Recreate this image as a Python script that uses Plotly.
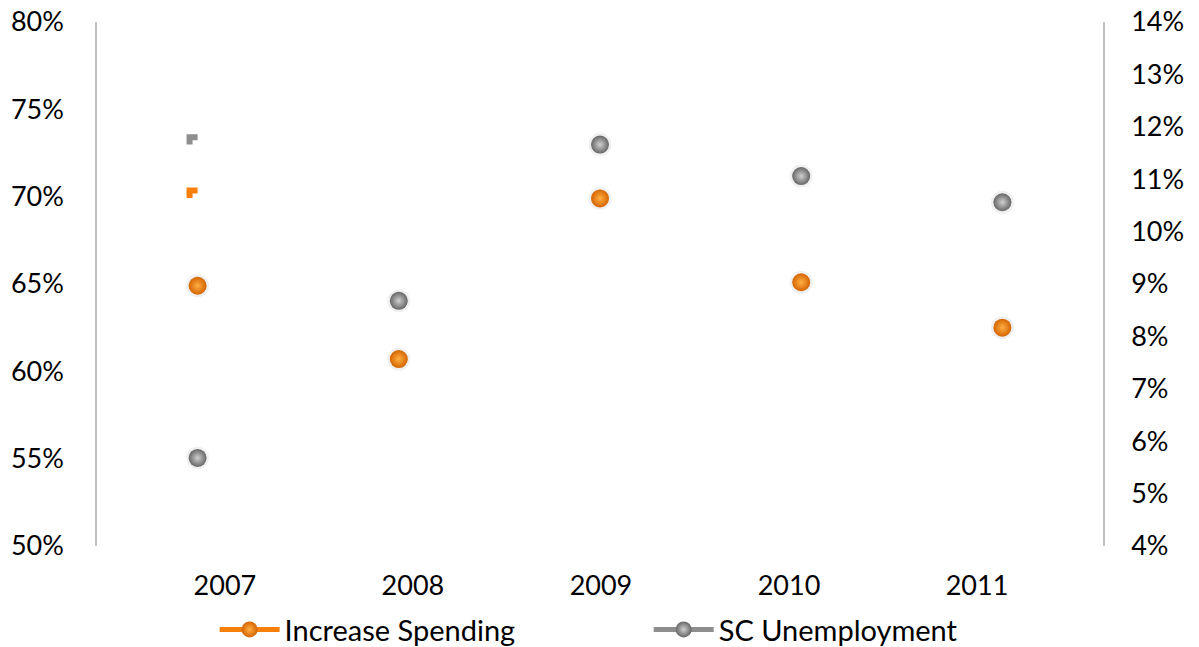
import plotly.graph_objects as go

# Survey years and series values
years = ["2007", "2008", "2009", "2010", "2011"]
increase_spending = [0.649, 0.607, 0.699, 0.651, 0.625]      # left axis
sc_unemployment = [0.0568, 0.0868, 0.1166, 0.1106, 0.1056]   # right axis

# Short line stubs left at the start of each series
stub_x = [-0.04, -0.04, 0.0]
spend_stub = [0.6993, 0.7036, 0.7036]
unemp_stub = [0.1166, 0.1180, 0.1180]

ORANGE_EDGE = "#D46400"
ORANGE_CORE = "#FFAE45"
ORANGE_LINE = "#F77F0A"
GRAY_EDGE = "#666666"
GRAY_CORE = "#CFCFCF"
GRAY_LINE = "#8E8E8E"
FONT = "Lato"

idx = list(range(len(years)))

fig = go.Figure()

# category axis carrying the year labels
fig.add_trace(go.Scatter(
    x=idx, y=[None] * len(idx), xaxis="x", yaxis="y", mode="markers",
    showlegend=False, hoverinfo="skip"))

# soft shadows under the balls
fig.add_trace(go.Scatter(
    x=idx, y=increase_spending, xaxis="x2", yaxis="y", mode="markers",
    marker=dict(size=23, color="rgba(0,0,0,0.06)"), showlegend=False, hoverinfo="skip"))
fig.add_trace(go.Scatter(
    x=idx, y=sc_unemployment, xaxis="x2", yaxis="y2", mode="markers",
    marker=dict(size=23, color="rgba(0,0,0,0.06)"), showlegend=False, hoverinfo="skip"))

fig.add_trace(go.Scatter(
    x=stub_x, y=spend_stub, xaxis="x2", yaxis="y", mode="lines",
    line=dict(color=ORANGE_LINE, width=6), showlegend=False, hoverinfo="skip"))
fig.add_trace(go.Scatter(
    x=stub_x, y=unemp_stub, xaxis="x2", yaxis="y2", mode="lines",
    line=dict(color=GRAY_LINE, width=6), showlegend=False, hoverinfo="skip"))

fig.add_trace(go.Scatter(
    x=idx, y=increase_spending, xaxis="x2", yaxis="y", mode="markers",
    name="Increase Spending", showlegend=False,
    marker=dict(size=18, color=ORANGE_EDGE,
                gradient=dict(type="radial", color=ORANGE_CORE),
                line=dict(width=0))))
fig.add_trace(go.Scatter(
    x=idx, y=sc_unemployment, xaxis="x2", yaxis="y2", mode="markers",
    name="SC Unemployment", showlegend=False,
    marker=dict(size=18, color=GRAY_EDGE,
                gradient=dict(type="radial", color=GRAY_CORE),
                line=dict(width=0))))

# legend entries (line + ball), one legend box each
fig.add_trace(go.Scatter(
    x=[None], y=[None], xaxis="x2", yaxis="y", mode="lines+markers",
    name="Increase Spending", legend="legend",
    line=dict(color=ORANGE_LINE, width=5),
    marker=dict(size=17, color=ORANGE_EDGE,
                gradient=dict(type="radial", color=ORANGE_CORE))))
fig.add_trace(go.Scatter(
    x=[None], y=[None], xaxis="x2", yaxis="y2", mode="lines+markers",
    name="SC Unemployment", legend="legend2",
    line=dict(color=GRAY_LINE, width=5),
    marker=dict(size=17, color=GRAY_EDGE,
                gradient=dict(type="radial", color=GRAY_CORE))))

axis_font = dict(family=FONT, size=27, color="#000000")
legend_common = dict(
    orientation="h", xref="container", yref="container",
    xanchor="left", y=0.027, yanchor="middle",
    font=dict(family=FONT, size=29, color="#000000"),
    itemwidth=60, bgcolor="rgba(0,0,0,0)",
)

fig.update_layout(
    width=1199, height=647,
    margin=dict(l=97, r=96, t=22, b=101),
    paper_bgcolor="white", plot_bgcolor="white",
    font=dict(family=FONT, size=27, color="#000000"),
    xaxis=dict(
        tickvals=idx, ticktext=years, range=[-0.68, 4.67],
        showgrid=False, zeroline=False, showline=False, automargin=False,
        ticks="", tickfont=axis_font, ticklabelstandoff=21,
    ),
    xaxis2=dict(
        overlaying="x", anchor="y", range=[-0.5, 4.5], visible=False,
    ),
    yaxis=dict(
        range=[0.5, 0.8], dtick=0.05, tickformat=".0%",
        showgrid=False, zeroline=False, automargin=False,
        showline=True, linecolor="#BFBFBF", linewidth=1.5,
        ticks="", tickfont=axis_font, ticklabelstandoff=26,
    ),
    yaxis2=dict(
        range=[0.04, 0.14], dtick=0.01, tickformat=".0%",
        overlaying="y", side="right", anchor="x", automargin=False,
        showgrid=False, zeroline=False,
        showline=True, linecolor="#BFBFBF", linewidth=1.5,
        ticks="", tickfont=axis_font, ticklabelstandoff=21,
    ),
    legend=dict(x=0.179, **legend_common),
    legend2=dict(x=0.541, **legend_common),
    showlegend=True,
)

fig.write_html("out.html")
